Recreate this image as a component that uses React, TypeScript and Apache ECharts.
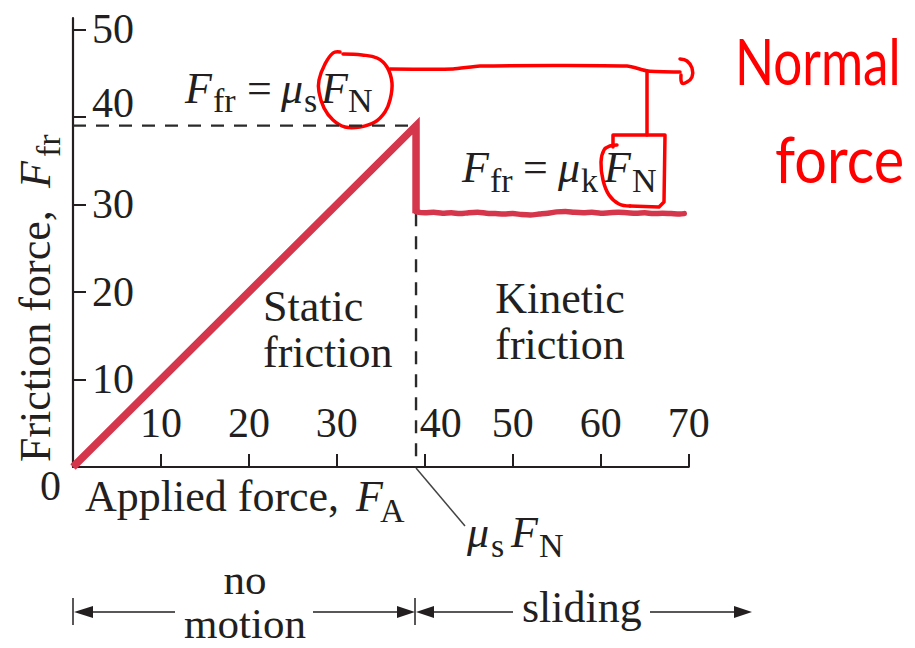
import React, { useEffect, useRef } from "react";
import * as echarts from "echarts";

// Static friction rises with the applied force up to μs·FN, then drops to μk·FN.
const appliedStatic = [0, 39, 39];
const frictionStatic = [0, 39, 29];

// Kinetic friction while sliding: roughly constant with a slight ripple.
const appliedKinetic = [
  39, 40, 41, 42, 43, 44, 45, 46, 47, 48, 49, 50, 51, 52, 53, 54, 55, 56, 57, 58,
  59, 60, 61, 62, 63, 64, 65, 66, 67, 68, 69, 69.5,
];
const frictionKinetic = [
  29.15, 29.05, 29.1, 29.0, 29.05, 28.95, 29.05, 29.1, 29.0, 28.95, 28.9, 28.95,
  28.85, 28.8, 28.9, 29.0, 29.15, 29.2, 29.1, 29.05, 29.1, 29.0, 29.05, 29.1,
  29.05, 29.0, 29.05, 28.95, 29.0, 28.95, 28.9, 28.95,
];

// Guide lines: the maximum static friction and the force where sliding starts.
const maxStaticFriction = 39;
const breakawayForce = 39;
const kineticLevel = 29;

const xTickValues = [10, 20, 30, 40, 50, 60, 70];
const yTickValues = [10, 20, 30, 40, 50];

const SERIF = '"Liberation Serif", "Times New Roman", serif';
const HAND = 'Lato, "Noto Sans", sans-serif';
const INK = "#231f20";
const LINE_RED = "#d5364c";
const PEN_RED = "#ff0000";
const K = 0.34;
const SUB = 34;

function word(
  text: string,
  x: number,
  baseline: number,
  opts: { size?: number; italic?: boolean; align?: string; color?: string } = {}
) {
  const size = opts.size ?? 44;
  return {
    type: "text",
    x,
    y: baseline - K * size,
    silent: true,
    style: {
      text,
      fill: opts.color ?? INK,
      fontFamily: SERIF,
      fontSize: size,
      lineHeight: Math.round(size * 0.85),
      fontStyle: opts.italic ? "italic" : "normal",
      align: opts.align ?? "left",
      verticalAlign: "middle",
    },
  };
}

function line(x1: number, y1: number, x2: number, y2: number, width = 2, color = INK) {
  return {
    type: "line",
    silent: true,
    shape: { x1, y1, x2, y2 },
    style: { stroke: color, lineWidth: width },
  };
}

function head(points: number[][]) {
  return { type: "polygon", silent: true, shape: { points }, style: { fill: INK } };
}

function pen(points: number[][], smooth = 0) {
  return {
    type: "polyline",
    silent: true,
    shape: { points, smooth },
    style: { stroke: PEN_RED, lineWidth: 3.5, fill: "none", lineCap: "round", lineJoin: "round" },
  };
}

export default function App() {
  const ref = useRef<HTMLDivElement>(null);

  useEffect(() => {
    if (!ref.current) return;
    const chart = echarts.init(ref.current, null, { renderer: "svg" });

    const labelFont = { fontFamily: SERIF, fontSize: 42, color: INK };

    chart.setOption({
      animation: false,
      backgroundColor: "#ffffff",
      grid: { left: 73, top: 18, width: 615.7, height: 449, containLabel: false, outerBoundsMode: "none" },
      xAxis: {
        type: "value",
        min: 0,
        max: 70,
        interval: 10,
        splitLine: { show: false },
        axisLine: { show: true, onZero: false, lineStyle: { color: INK, width: 2.2 } },
        axisTick: { show: true, inside: true, length: 13, lineStyle: { color: INK, width: 2 }, customValues: xTickValues },
        axisLabel: {
          inside: true,
          margin: 23,
          customValues: xTickValues,
          ...labelFont,
          formatter: (v: number) => (v === 40 ? "{shift|40}" : String(v)),
          rich: { shift: { ...labelFont, padding: [0, 0, 0, 32] } },
        },
      },
      yAxis: {
        type: "value",
        min: 0,
        max: 51.3,
        interval: 10,
        splitLine: { show: false },
        axisLine: { show: true, onZero: false, lineStyle: { color: INK, width: 2.2 } },
        axisTick: { show: true, inside: true, length: 13, lineStyle: { color: INK, width: 2 }, customValues: yTickValues },
        axisLabel: {
          inside: true,
          margin: 19,
          customValues: yTickValues,
          ...labelFont,
          formatter: (v: number) => (v === 40 ? "{lift|40}" : String(v)),
          rich: { lift: { ...labelFont, padding: [0, 0, 28, 0] } },
        },
      },
      series: [
        {
          type: "line",
          silent: true,
          symbol: "none",
          data: [
            [0, maxStaticFriction],
            [breakawayForce, maxStaticFriction],
          ],
          lineStyle: { color: "#2a2a2a", width: 2.4, type: [13, 10] },
          z: 1,
        },
        {
          type: "line",
          silent: true,
          symbol: "none",
          data: [
            [breakawayForce, kineticLevel],
            [breakawayForce, 0],
          ],
          lineStyle: { color: "#2a2a2a", width: 2.4, type: [13, 10] },
          z: 1,
        },
        {
          type: "line",
          silent: true,
          symbol: "none",
          data: appliedStatic.map((x, i) => [x, frictionStatic[i]]),
          lineStyle: { color: LINE_RED, width: 7.5, join: "miter", cap: "butt" },
          z: 3,
        },
        {
          type: "line",
          silent: true,
          symbol: "none",
          smooth: 0.3,
          data: appliedKinetic.map((x, i) => [x, frictionKinetic[i]]),
          lineStyle: { color: LINE_RED, width: 5.5, join: "round", cap: "round" },
          z: 3,
        },
      ],
      graphic: [
        // origin label
        word("0", 40, 500, { size: 42 }),
        // axis titles
        word("Applied force, ", 85, 511),
        word("F", 356, 511, { italic: true }),
        word("A", 380, 522, { size: SUB }),
        {
          type: "group",
          x: 50,
          y: 462,
          rotation: Math.PI / 2,
          children: [
            word("Friction force, ", 0, 0),
            word("F", 274, 0, { italic: true }),
            word("fr", 305, 10, { size: SUB }),
          ],
        },
        // region labels
        word("Static", 263, 321),
        word("friction", 263, 367),
        word("Kinetic", 560, 313, { align: "center" }),
        word("friction", 560, 359, { align: "center" }),
        // F_fr = μs F_N
        word("F", 185, 103, { italic: true }),
        word("fr", 213, 112, { size: SUB }),
        word("=", 247, 103),
        word("μ", 281, 103, { italic: true }),
        word("s", 304, 112, { size: SUB }),
        word("F", 321, 103, { italic: true }),
        word("N", 348, 112, { size: SUB }),
        // F_fr = μk F_N
        word("F", 462, 182, { italic: true }),
        word("fr", 490, 192, { size: SUB }),
        word("=", 523, 182),
        word("μ", 558, 182, { italic: true }),
        word("k", 581, 192, { size: SUB }),
        word("F", 604, 182, { italic: true }),
        word("N", 632, 192, { size: SUB }),
        // μs F_N pointer
        line(416, 468, 465, 526, 1.5, "#444444"),
        word("μ", 467, 547, { italic: true }),
        word("s", 491, 557, { size: SUB }),
        word("F", 511, 547, { italic: true }),
        word("N", 539, 557, { size: SUB }),
        // motion ranges
        line(73, 598, 73, 625, 1.5),
        head([[74, 612], [93, 606], [93, 618]]),
        line(90, 612, 175, 612, 1.5),
        word("no", 245, 594, { align: "center", size: 43 }),
        word("motion", 245, 638, { align: "center", size: 43 }),
        line(313, 612, 400, 612, 1.5),
        head([[415, 612], [397, 606], [397, 618]]),
        line(415, 598, 415, 625, 1.5),
        head([[416, 612], [434, 606], [434, 618]]),
        line(430, 612, 513, 612, 1.5),
        word("sliding", 522, 622),
        line(650, 612, 738, 612, 1.5),
        head([[752, 612], [734, 606], [734, 618]]),
        // pen annotations
        pen(
          [
            [343, 54], [362, 55], [377, 58], [387, 67], [392, 83], [390, 100], [385, 112],
            [375, 122], [360, 127], [345, 127], [333, 120], [324, 108], [319, 92], [319, 80],
            [325, 64], [333, 53], [340, 52],
          ],
          0.4
        ),
        pen([[390, 69], [453, 69], [480, 66], [627, 66], [648, 71], [680, 72]], 0.2),
        pen([[680, 59], [687, 61], [692, 68], [692, 77], [687, 82], [682, 83], [681, 75]], 0.4),
        pen([[647, 71], [647, 135]]),
        pen([[613, 147], [613, 135], [665, 135], [664, 202], [659, 207], [630, 206]]),
        pen([[630, 206], [619, 204], [609, 195], [603, 180], [601, 162], [604, 150], [610, 146], [617, 145]], 0.4),
        {
          type: "text",
          x: 735,
          y: 85 - 0.39 * 64,
          scaleX: 0.8,
          silent: true,
          style: { text: "Normal", fill: PEN_RED, fontFamily: HAND, fontWeight: 400, fontSize: 64, verticalAlign: "middle" },
        },
        {
          type: "text",
          x: 775,
          y: 183 - 0.39 * 64,
          scaleX: 0.9,
          silent: true,
          style: { text: "force", fill: PEN_RED, fontFamily: HAND, fontWeight: 400, fontSize: 64, verticalAlign: "middle" },
        },
      ],
    });

    return () => chart.dispose();
  }, []);

  return (
    <div
      ref={ref}
      style={{ position: "fixed", left: 0, top: 0, width: 915, height: 648, background: "#ffffff" }}
    />
  );
}
